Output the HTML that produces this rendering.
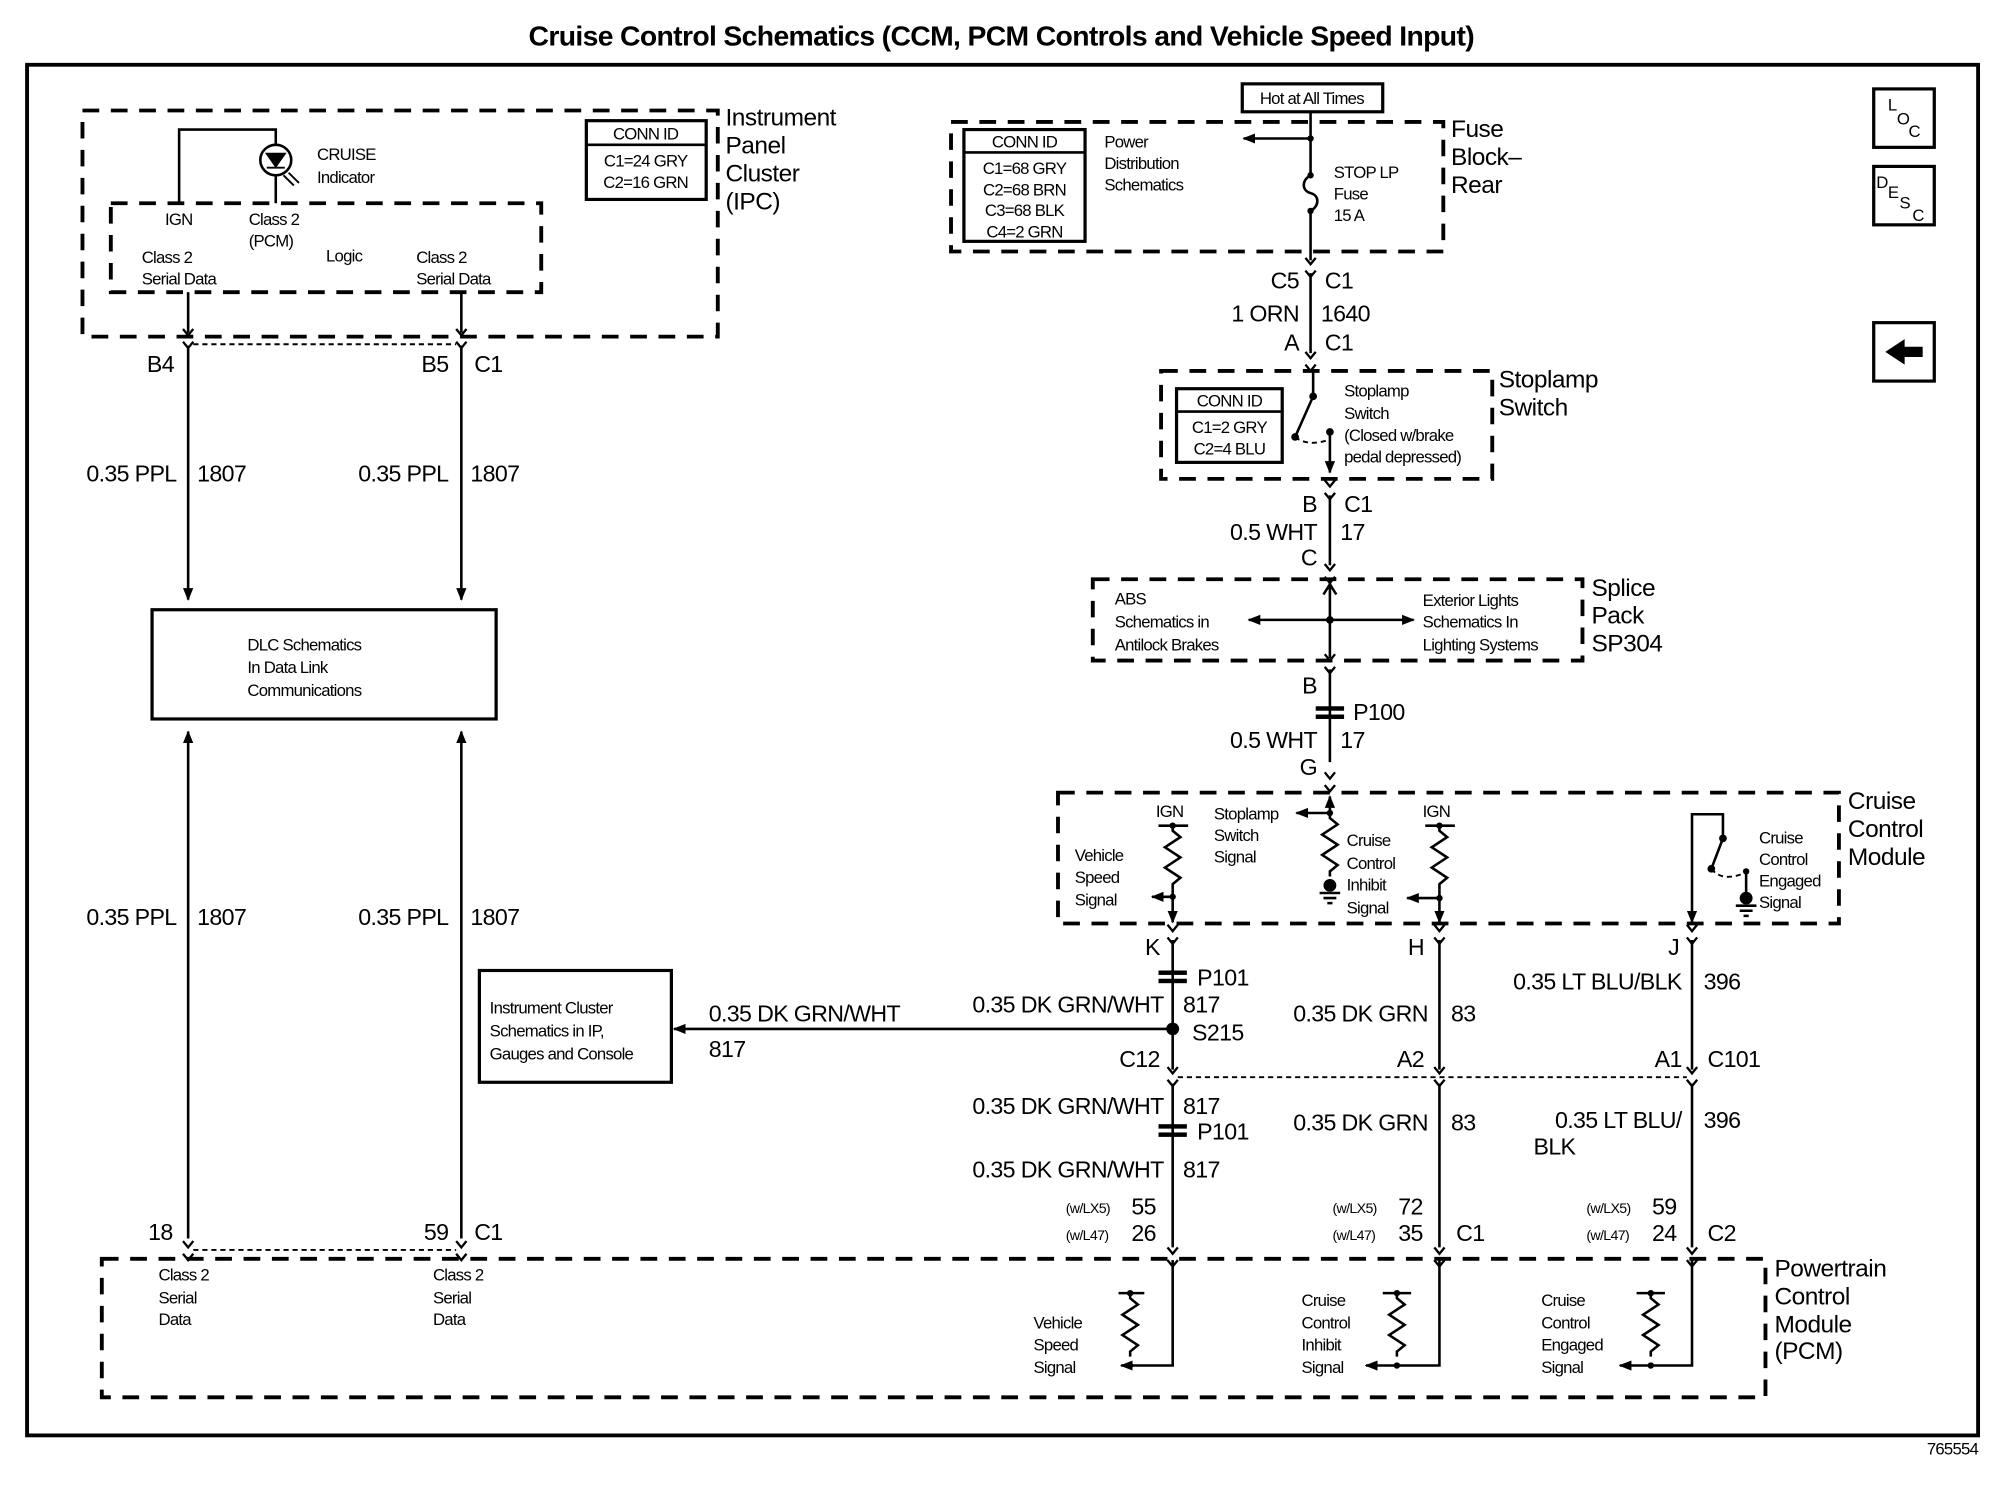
<!DOCTYPE html>
<html><head><meta charset="utf-8"><style>
html,body{margin:0;padding:0;background:#fff;width:2000px;height:1504px;overflow:hidden}
svg{display:block}
text{font-family:"Liberation Sans",Arial,sans-serif;fill:#000}
.s{font-size:13px;letter-spacing:-0.6px}
.m{font-size:18px;letter-spacing:-0.5px}
.l{font-size:19px;letter-spacing:-0.4px}
.xs{font-size:11px;letter-spacing:-0.5px}
.r{text-anchor:end}
.c{text-anchor:middle}
.w{stroke:#000;stroke-width:2;fill:none}
.d{stroke:#000;stroke-width:3;fill:none;stroke-dasharray:13,9}
.dt{stroke:#000;stroke-width:1.5;fill:none;stroke-dasharray:4,3}
</style></head><body>
<svg width="2000" height="1504" viewBox="0 0 1552 1184" preserveAspectRatio="none" xmlns="http://www.w3.org/2000/svg">
<defs>
<marker id="a" markerWidth="10" markerHeight="10" refX="9" refY="5" orient="auto" markerUnits="userSpaceOnUse"><path d="M0,1 L10,5 L0,9 Z" fill="#000"/></marker>
<marker id="ab" markerWidth="10" markerHeight="10" refX="1" refY="5" orient="auto" markerUnits="userSpaceOnUse"><path d="M10,1 L0,5 L10,9 Z" fill="#000"/></marker>
<g id="cn"><path d="M-4,-7 L0,-2 L4,-7 M-4,3 L0,8 L4,3" stroke="#000" stroke-width="1.8" fill="none"/></g>
<g id="res"><path d="M0,0 L0,4 L6,9 L-6,17 L6,25 L-6,33 L6,41 L0,46 L0,50" stroke="#000" stroke-width="2" fill="none"/></g>
<g id="pp"><rect x="-11" y="-5" width="22" height="3.5" fill="#000"/><rect x="-11" y="1.5" width="22" height="3.5" fill="#000"/></g>
<g id="gnd"><circle cx="0" cy="0" r="5" fill="#000"/><path d="M-8,6 H8 M-5,10 H5 M-2,14 H2" stroke="#000" stroke-width="2"/></g>
</defs>

<text x="777" y="36" class="c" style="font-size:22px;font-weight:bold;letter-spacing:-0.5px">Cruise Control Schematics (CCM, PCM Controls and Vehicle Speed Input)</text>
<rect x="21" y="51" width="1514" height="1079" fill="none" stroke="#000" stroke-width="3"/>
<text x="1535" y="1145" class="s r">765554</text>

<rect x="1454" y="70" width="47" height="46" fill="none" stroke="#000" stroke-width="2.5"/>
<text x="1465" y="87" class="s">L</text><text x="1472" y="98" class="s">O</text><text x="1481" y="108" class="s">C</text>
<rect x="1454" y="131" width="47" height="46" fill="none" stroke="#000" stroke-width="2.5"/>
<text x="1456" y="148" class="s">D</text><text x="1465" y="156" class="s">E</text><text x="1474" y="164" class="s">S</text><text x="1484" y="174" class="s">C</text>
<rect x="1454" y="254" width="47" height="46" fill="none" stroke="#000" stroke-width="2.5"/>
<path d="M1463,277 L1478,267 L1478,273 L1492,273 L1492,281 L1478,281 L1478,287 Z" fill="#000"/>

<!-- IPC -->
<rect x="64" y="87" width="493" height="178" class="d"/>
<text x="563" y="99" class="l">Instrument</text><text x="563" y="121" class="l">Panel</text><text x="563" y="143" class="l">Cluster</text><text x="563" y="165" class="l">(IPC)</text>
<rect x="86" y="160" width="334" height="70" class="d"/>
<path d="M139,160 V102 H214 V160" class="w"/>
<circle cx="214" cy="126" r="12" fill="#fff" stroke="#000" stroke-width="2"/>
<path d="M207,121 H221 L214,131 Z M207,132 H221" stroke="#000" stroke-width="1.5" fill="#000"/>
<path d="M220,138 L228,146 M224,136 L232,144" stroke="#000" stroke-width="1.5"/>
<text x="246" y="126" class="s">CRUISE</text><text x="246" y="144" class="s">Indicator</text>
<text x="128" y="177" class="s">IGN</text><text x="193" y="177" class="s">Class 2</text><text x="193" y="194" class="s">(PCM)</text>
<text x="253" y="206" class="s">Logic</text>
<text x="110" y="207" class="s">Class 2</text><text x="110" y="224" class="s">Serial Data</text>
<text x="323" y="207" class="s">Class 2</text><text x="323" y="224" class="s">Serial Data</text>
<rect x="455" y="95" width="93" height="62" fill="none" stroke="#000" stroke-width="2.5"/>
<line x1="455" y1="114" x2="548" y2="114" stroke="#000" stroke-width="2"/>
<text x="501" y="110" class="s c">CONN ID</text><text x="501" y="131" class="s c">C1=24 GRY</text><text x="501" y="148" class="s c">C2=16 GRN</text>

<!-- left wires -->
<path d="M146,230 V262" class="w"/><path d="M358,230 V262" class="w"/>
<use href="#cn" x="146" y="266"/><use href="#cn" x="358" y="266"/>
<line x1="150" y1="271" x2="354" y2="271" class="dt"/>
<path d="M146,272 V472" class="w" marker-end="url(#a)"/>
<path d="M358,272 V472" class="w" marker-end="url(#a)"/>
<text x="135" y="293" class="m r">B4</text><text x="348" y="293" class="m r">B5</text><text x="368" y="293" class="m">C1</text>
<text x="137" y="379" class="m r">0.35 PPL</text><text x="153" y="379" class="m">1807</text>
<text x="348" y="379" class="m r">0.35 PPL</text><text x="365" y="379" class="m">1807</text>
<rect x="118" y="480" width="267" height="86" fill="none" stroke="#000" stroke-width="2.5"/>
<text x="192" y="512" class="s">DLC Schematics</text><text x="192" y="530" class="s">In Data Link</text><text x="192" y="548" class="s">Communications</text>
<path d="M146,975 V576" class="w" marker-end="url(#a)"/>
<path d="M358,975 V576" class="w" marker-end="url(#a)"/>
<text x="137" y="728" class="m r">0.35 PPL</text><text x="153" y="728" class="m">1807</text>
<text x="348" y="728" class="m r">0.35 PPL</text><text x="365" y="728" class="m">1807</text>
<text x="134" y="976" class="m r">18</text><text x="348" y="976" class="m r">59</text><text x="368" y="976" class="m">C1</text>
<use href="#cn" x="146" y="984"/><use href="#cn" x="358" y="984"/>
<line x1="150" y1="984" x2="354" y2="984" class="dt"/>

<!-- PCM -->
<rect x="79" y="991" width="1291" height="109" class="d"/>
<text x="1377" y="1005" class="l">Powertrain</text><text x="1377" y="1027" class="l">Control</text><text x="1377" y="1049" class="l">Module</text><text x="1377" y="1070" class="l">(PCM)</text>
<text x="123" y="1008" class="s">Class 2</text><text x="123" y="1026" class="s">Serial</text><text x="123" y="1043" class="s">Data</text>
<text x="336" y="1008" class="s">Class 2</text><text x="336" y="1026" class="s">Serial</text><text x="336" y="1043" class="s">Data</text>
<path d="M910,992 V1075 H870" class="w" marker-end="url(#a)"/>
<path d="M868,1018 H888" class="w"/><use href="#res" x="877" y="1018"/><circle cx="877" cy="1018" r="2.5"/><circle cx="877" cy="1075" r="2.5"/>
<text x="802" y="1046" class="s">Vehicle</text><text x="802" y="1063" class="s">Speed</text><text x="802" y="1081" class="s">Signal</text>
<path d="M1117,992 V1075 H1060" class="w" marker-end="url(#a)"/>
<path d="M1073,1018 H1095" class="w"/><use href="#res" x="1084" y="1018"/><circle cx="1084" cy="1018" r="2.5"/><circle cx="1084" cy="1075" r="2.5"/>
<text x="1010" y="1028" class="s">Cruise</text><text x="1010" y="1046" class="s">Control</text><text x="1010" y="1063" class="s">Inhibit</text><text x="1010" y="1081" class="s">Signal</text>
<path d="M1313,992 V1075 H1257" class="w" marker-end="url(#a)"/>
<path d="M1270,1018 H1292" class="w"/><use href="#res" x="1281" y="1018"/><circle cx="1281" cy="1018" r="2.5"/><circle cx="1281" cy="1075" r="2.5"/>
<text x="1196" y="1028" class="s">Cruise</text><text x="1196" y="1046" class="s">Control</text><text x="1196" y="1063" class="s">Engaged</text><text x="1196" y="1081" class="s">Signal</text>

<!-- Fuse block -->
<rect x="964" y="66" width="109" height="22" fill="none" stroke="#000" stroke-width="2.5"/>
<text x="1018" y="82" class="s c">Hot at All Times</text>
<rect x="738" y="96" width="382" height="102" class="d"/>
<text x="1126" y="108" class="l">Fuse</text><text x="1126" y="130" class="l">Block–</text><text x="1126" y="152" class="l">Rear</text>
<path d="M1017,88 V138 C1010,142 1010,150 1017,152 C1024,154 1024,162 1017,166 V205" class="w"/>
<circle cx="1017" cy="109" r="2.5"/><circle cx="1017" cy="138" r="2.5"/><circle cx="1017" cy="166" r="2.5"/>
<path d="M1017,109 H965" class="w" marker-end="url(#a)"/>
<text x="857" y="116" class="s">Power</text><text x="857" y="133" class="s">Distribution</text><text x="857" y="150" class="s">Schematics</text>
<text x="1035" y="140" class="s">STOP LP</text><text x="1035" y="157" class="s">Fuse</text><text x="1035" y="174" class="s">15 A</text>
<rect x="748" y="102" width="94" height="88" fill="none" stroke="#000" stroke-width="2.5"/>
<line x1="748" y1="120" x2="842" y2="120" stroke="#000" stroke-width="2"/>
<text x="795" y="116" class="s c">CONN ID</text><text x="795" y="137" class="s c">C1=68 GRY</text><text x="795" y="154" class="s c">C2=68 BRN</text><text x="795" y="170" class="s c">C3=68 BLK</text><text x="795" y="187" class="s c">C4=2 GRN</text>
<use href="#cn" x="1017" y="210"/>
<path d="M1017,215 V278" class="w"/>
<text x="1008" y="227" class="m r">C5</text><text x="1028" y="227" class="m">C1</text>
<text x="1008" y="253" class="m r">1 ORN</text><text x="1025" y="253" class="m">1640</text>
<text x="1008" y="276" class="m r">A</text><text x="1028" y="276" class="m">C1</text>
<use href="#cn" x="1017" y="284"/>

<!-- Stoplamp switch -->
<rect x="901" y="292" width="257" height="85" class="d"/>
<text x="1163" y="305" class="l">Stoplamp</text><text x="1163" y="327" class="l">Switch</text>
<rect x="913" y="306" width="82" height="58" fill="none" stroke="#000" stroke-width="2.5"/>
<line x1="913" y1="324" x2="995" y2="324" stroke="#000" stroke-width="2"/>
<text x="954" y="320" class="s c">CONN ID</text><text x="954" y="341" class="s c">C1=2 GRY</text><text x="954" y="358" class="s c">C2=4 BLU</text>
<path d="M1019,292 V312 L1005,344" class="w"/><circle cx="1019" cy="312" r="3"/><circle cx="1005" cy="344" r="3"/>
<path d="M1005,344 Q1015,352 1032,346" class="dt"/>
<path d="M1032,340 V372" class="w" marker-end="url(#a)"/><circle cx="1032" cy="340" r="3"/>
<text x="1043" y="312" class="s">Stoplamp</text><text x="1043" y="330" class="s">Switch</text><text x="1043" y="347" class="s">(Closed w/brake</text><text x="1043" y="364" class="s">pedal depressed)</text>
<use href="#cn" x="1032" y="385"/>
<path d="M1032,390 V445" class="w"/>
<text x="1022" y="403" class="m r">B</text><text x="1043" y="403" class="m">C1</text>
<text x="1022" y="425" class="m r">0.5 WHT</text><text x="1040" y="425" class="m">17</text>
<text x="1022" y="445" class="m r">C</text>
<use href="#cn" x="1032" y="451"/>

<!-- Splice pack -->
<rect x="848" y="456" width="380" height="64" class="d"/>
<text x="1235" y="469" class="l">Splice</text><text x="1235" y="491" class="l">Pack</text><text x="1235" y="513" class="l">SP304</text>
<path d="M1032,458 V518" class="w"/><circle cx="1032" cy="488" r="3"/>
<path d="M1032,460 L1027,468 M1032,460 L1037,468" class="w"/>
<path d="M969,488 H1097" class="w" marker-start="url(#ab)" marker-end="url(#a)"/>
<text x="865" y="476" class="s">ABS</text><text x="865" y="494" class="s">Schematics in</text><text x="865" y="512" class="s">Antilock Brakes</text>
<text x="1104" y="477" class="s">Exterior Lights</text><text x="1104" y="494" class="s">Schematics In</text><text x="1104" y="512" class="s">Lighting Systems</text>
<use href="#cn" x="1032" y="522"/>
<path d="M1032,527 V600" class="w"/>
<text x="1022" y="546" class="m r">B</text>
<use href="#pp" x="1032" y="561"/><text x="1050" y="567" class="m">P100</text>
<text x="1022" y="589" class="m r">0.5 WHT</text><text x="1040" y="589" class="m">17</text>
<text x="1022" y="610" class="m r">G</text>
<use href="#cn" x="1032" y="615"/>

<!-- CCM -->
<rect x="821" y="624" width="606" height="103" class="d"/>
<text x="1434" y="637" class="l">Cruise</text><text x="1434" y="659" class="l">Control</text><text x="1434" y="681" class="l">Module</text>
<text x="897" y="643" class="s">IGN</text>
<path d="M899,650 H922" class="w"/><use href="#res" x="910" y="650"/><circle cx="910" cy="650" r="2.5"/><circle cx="910" cy="706" r="2.5"/>
<path d="M910,700 V726" class="w" marker-end="url(#a)"/>
<path d="M910,706 H894" class="w" marker-end="url(#a)"/>
<text x="834" y="678" class="s">Vehicle</text><text x="834" y="695" class="s">Speed</text><text x="834" y="713" class="s">Signal</text>
<text x="942" y="645" class="s">Stoplamp</text><text x="942" y="662" class="s">Switch</text><text x="942" y="679" class="s">Signal</text>
<path d="M1032,640 H1006" class="w" marker-end="url(#a)"/><circle cx="1032" cy="640" r="2.5"/>
<path d="M1032,640 V627" class="w" marker-end="url(#a)"/><use href="#res" x="1032" y="640"/><use href="#gnd" x="1032" y="697"/>
<text x="1045" y="666" class="s">Cruise</text><text x="1045" y="684" class="s">Control</text><text x="1045" y="701" class="s">Inhibit</text><text x="1045" y="719" class="s">Signal</text>
<text x="1104" y="643" class="s">IGN</text>
<path d="M1106,650 H1129" class="w"/><use href="#res" x="1117" y="650"/><circle cx="1117" cy="650" r="2.5"/><circle cx="1117" cy="707" r="2.5"/>
<path d="M1117,700 V726" class="w" marker-end="url(#a)"/>
<path d="M1117,707 H1092" class="w" marker-end="url(#a)"/>
<path d="M1337,660 V641 H1313 V726" class="w" marker-end="url(#a)"/>
<circle cx="1337" cy="660" r="3"/><path d="M1337,660 L1328,684" class="w"/><circle cx="1328" cy="684" r="3"/>
<path d="M1328,684 Q1336,694 1352,688" class="dt"/><circle cx="1355" cy="686" r="2.5"/>
<path d="M1355,686 V705" class="w"/><use href="#gnd" x="1355" y="707"/>
<text x="1365" y="664" class="s">Cruise</text><text x="1365" y="681" class="s">Control</text><text x="1365" y="698" class="s">Engaged</text><text x="1365" y="715" class="s">Signal</text>

<!-- lower right wires -->
<use href="#cn" x="910" y="735"/><use href="#cn" x="1117" y="735"/><use href="#cn" x="1313" y="735"/>
<text x="900" y="752" class="m r">K</text><text x="1105" y="752" class="m r">H</text><text x="1303" y="752" class="m r">J</text>
<path d="M910,740 V842 M1117,740 V842 M1313,740 V842" class="w"/>
<use href="#pp" x="910" y="769"/><text x="929" y="776" class="m">P101</text>
<text x="903" y="797" class="m r">0.35 DK GRN/WHT</text><text x="918" y="797" class="m">817</text>
<circle cx="910" cy="810" r="5" fill="#000"/>
<path d="M910,810 H523" class="w" marker-end="url(#a)"/>
<text x="550" y="804" class="m">0.35 DK GRN/WHT</text><text x="550" y="832" class="m">817</text>
<text x="925" y="819" class="m">S215</text>
<rect x="372" y="764" width="149" height="88" fill="none" stroke="#000" stroke-width="2.5"/>
<text x="380" y="798" class="s">Instrument Cluster</text><text x="380" y="816" class="s">Schematics in IP,</text><text x="380" y="834" class="s">Gauges and Console</text>
<text x="1108" y="804" class="m r">0.35 DK GRN</text><text x="1126" y="804" class="m">83</text>
<text x="1305" y="779" class="m r">0.35 LT BLU/BLK</text><text x="1322" y="779" class="m">396</text>
<text x="900" y="840" class="m r">C12</text><text x="1105" y="840" class="m r">A2</text><text x="1305" y="840" class="m r">A1</text><text x="1325" y="840" class="m">C101</text>
<use href="#cn" x="910" y="847"/><use href="#cn" x="1117" y="847"/><use href="#cn" x="1313" y="847"/>
<line x1="914" y1="848" x2="1309" y2="848" class="dt"/>
<path d="M910,853 V982 M1117,853 V982 M1313,853 V982" class="w"/>
<text x="903" y="877" class="m r">0.35 DK GRN/WHT</text><text x="918" y="877" class="m">817</text>
<use href="#pp" x="910" y="890"/><text x="929" y="897" class="m">P101</text>
<text x="903" y="927" class="m r">0.35 DK GRN/WHT</text><text x="918" y="927" class="m">817</text>
<text x="1108" y="890" class="m r">0.35 DK GRN</text><text x="1126" y="890" class="m">83</text>
<text x="1305" y="888" class="m r">0.35 LT BLU/</text><text x="1190" y="909" class="m">BLK</text><text x="1322" y="888" class="m">396</text>
<text x="827" y="955" class="xs">(w/LX5)</text><text x="878" y="956" class="m">55</text>
<text x="827" y="976" class="xs">(w/L47)</text><text x="878" y="977" class="m">26</text>
<text x="1034" y="955" class="xs">(w/LX5)</text><text x="1085" y="956" class="m">72</text>
<text x="1034" y="976" class="xs">(w/L47)</text><text x="1085" y="977" class="m">35</text><text x="1130" y="977" class="m">C1</text>
<text x="1231" y="955" class="xs">(w/LX5)</text><text x="1282" y="956" class="m">59</text>
<text x="1231" y="976" class="xs">(w/L47)</text><text x="1282" y="977" class="m">24</text><text x="1325" y="977" class="m">C2</text>
<use href="#cn" x="910" y="989"/><use href="#cn" x="1117" y="989"/><use href="#cn" x="1313" y="989"/>
</svg>
</body></html>
